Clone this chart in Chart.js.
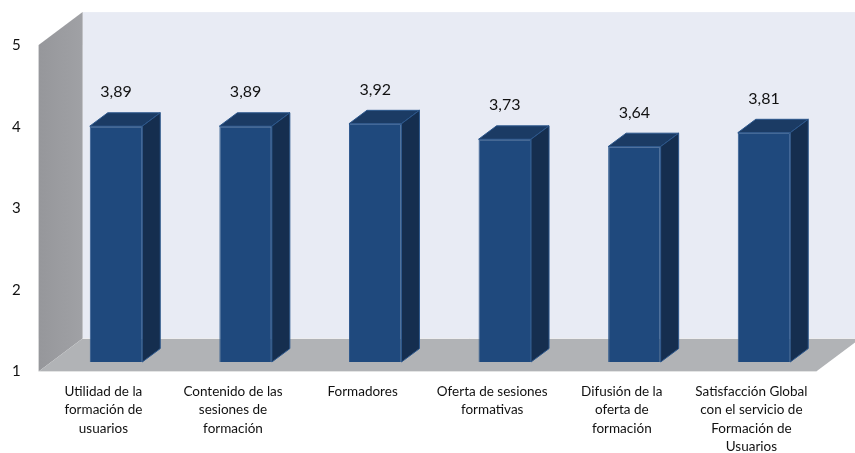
<!DOCTYPE html>
<html>
<head>
<meta charset="utf-8">
<script src="https://cdn.jsdelivr.net/npm/chart.js@4/dist/chart.umd.min.js"></script>
<style>
  body { margin: 0; background: #fff; }
  #wrap { width: 855px; height: 453px; position: relative; }
</style>
</head>
<body>
<div id="wrap"><canvas id="myChart"></canvas></div>
<script>
// survey categories (multi-line x labels)
var categorias = [
  ["Utilidad de la", "formación de", "usuarios"],
  ["Contenido de las", "sesiones de", "formación"],
  ["Formadores"],
  ["Oferta de sesiones", "formativas"],
  ["Difusión de la", "oferta de", "formación"],
  ["Satisfacción Global", "con el servicio de", "Formación de", "Usuarios"]
];
var puntuaciones = [3.89, 3.89, 3.92, 3.73, 3.64, 3.81];
var escalaMin = 1;
var escalaMax = 5;

// 3d look: offset of the front plane vs the bars, wall depth and bar depth
var frontDx = -12.6, frontDy = 9.5;
var wallDx = 44, wallDy = -33;
var barDx = 18, barDy = -13.4;

var fuente = "Lato, 'Open Sans', sans-serif";

var caja3d = {
  id: 'caja3d',
  beforeDatasetsDraw: function (chart) {
    var ctx = chart.ctx;
    var area = chart.chartArea;
    var y = chart.scales.y;
    var fl = area.left + frontDx, fr = area.right + frontDx;
    var ytop = y.getPixelForValue(escalaMax) + frontDy;
    var ybot = y.getPixelForValue(escalaMin) + frontDy;
    ctx.save();
    // back wall
    ctx.fillStyle = '#e8ebf4';
    ctx.fillRect(fl + wallDx, ytop + wallDy, (fr - fl) + 10, ybot - ytop);
    // side wall
    var g = ctx.createLinearGradient(fl, 0, fl + wallDx, 0);
    g.addColorStop(0, '#96979b');
    g.addColorStop(1, '#a0a1a5');
    ctx.fillStyle = g;
    ctx.beginPath();
    ctx.moveTo(fl, ytop);
    ctx.lineTo(fl + wallDx, ytop + wallDy);
    ctx.lineTo(fl + wallDx, ybot + wallDy);
    ctx.lineTo(fl, ybot);
    ctx.closePath();
    ctx.fill();
    // floor
    ctx.fillStyle = '#b1b3b6';
    ctx.beginPath();
    ctx.moveTo(fl, ybot);
    ctx.lineTo(fl + wallDx, ybot + wallDy);
    ctx.lineTo(fr + wallDx, ybot + wallDy);
    ctx.lineTo(fr, ybot);
    ctx.closePath();
    ctx.fill();
    // light edges
    ctx.strokeStyle = 'rgba(255,255,255,0.6)';
    ctx.lineWidth = 1;
    ctx.beginPath();
    ctx.moveTo(fl + wallDx, ybot + wallDy);
    ctx.lineTo(fr + wallDx, ybot + wallDy);
    ctx.moveTo(fl, ybot + 0.5);
    ctx.lineTo(fr, ybot + 0.5);
    ctx.stroke();
    ctx.restore();
  },
  afterDatasetsDraw: function (chart) {
    var ctx = chart.ctx;
    var meta = chart.getDatasetMeta(0);
    var b = chart.scales.y.getPixelForValue(escalaMin);
    ctx.save();
    meta.data.forEach(function (bar, i) {
      var l = bar.x - bar.width / 2, r = bar.x + bar.width / 2;
      var t = bar.y;
      // top face
      ctx.fillStyle = '#1b3b64';
      ctx.strokeStyle = '#2c578c';
      ctx.lineWidth = 1;
      ctx.beginPath();
      ctx.moveTo(l, t);
      ctx.lineTo(l + barDx, t + barDy);
      ctx.lineTo(r + barDx, t + barDy);
      ctx.lineTo(r, t);
      ctx.closePath();
      ctx.fill();
      ctx.stroke();
      // side face
      ctx.fillStyle = '#152e4f';
      ctx.beginPath();
      ctx.moveTo(r, t);
      ctx.lineTo(r + barDx, t + barDy);
      ctx.lineTo(r + barDx, b + barDy);
      ctx.lineTo(r, b);
      ctx.closePath();
      ctx.fill();
      ctx.stroke();
      // value label
      ctx.fillStyle = '#111';
      ctx.font = '16px ' + fuente;
      ctx.textAlign = 'center';
      ctx.textBaseline = 'middle';
      var v = puntuaciones[i].toFixed(2).replace('.', ',');
      ctx.fillText(v, bar.x, t - 34);
    });
    ctx.restore();
  }
};

var ctx = document.getElementById('myChart').getContext('2d');
var chart = new Chart(ctx, {
  type: 'bar',
  data: {
    labels: categorias,
    datasets: [{
      data: puntuaciones,
      base: escalaMin,
      backgroundColor: '#1f497d',
      borderColor: '#2c578c',
      borderWidth: 1,
      barPercentage: 0.405,
      categoryPercentage: 1
    }]
  },
  options: {
    responsive: true,
    maintainAspectRatio: false,
    animation: false,
    layout: { padding: { top: 35.6, right: 26.2, left: 12, bottom: 0 } },
    plugins: { legend: { display: false }, tooltip: { enabled: false } },
    scales: {
      x: {
        grid: { display: false, drawTicks: false },
        border: { display: false },
        afterFit: function (scale) { scale.height = 91; },
        ticks: {
          autoSkip: false,
          maxRotation: 0,
          padding: 21,
          labelOffset: frontDx,
          color: '#111',
          font: { family: fuente, size: 13.5, lineHeight: 1.34 }
        }
      },
      y: {
        min: escalaMin,
        max: escalaMax,
        grid: { display: false, drawTicks: false },
        border: { display: false },
        afterFit: function (scale) { scale.width = 39.2; },
        ticks: {
          stepSize: 1,
          padding: 0,
          crossAlign: 'far',
          labelOffset: frontDy,
          color: '#111',
          font: { family: fuente, size: 15 }
        }
      }
    }
  },
  plugins: [caja3d]
});
</script>
</body>
</html>
